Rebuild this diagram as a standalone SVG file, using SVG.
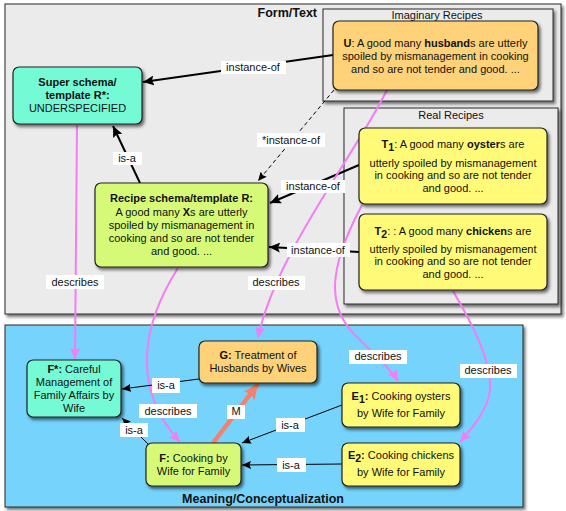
<svg xmlns="http://www.w3.org/2000/svg" width="566" height="511" viewBox="0 0 566 511">
<defs>
<filter id="sh" x="-10%" y="-10%" width="125%" height="125%">
<feDropShadow dx="2" dy="2.5" stdDeviation="1.5" flood-color="#000" flood-opacity="0.55"/>
</filter>
<marker id="ab" markerUnits="userSpaceOnUse" markerWidth="12" markerHeight="10" refX="11" refY="5" orient="auto">
<path d="M0,0 L11,5 L0,10 L2,5 z" fill="#000"/>
</marker>
<marker id="as" markerUnits="userSpaceOnUse" markerWidth="10" markerHeight="8" refX="9" refY="4" orient="auto">
<path d="M0,0 L9,4 L0,8 L1.5,4 z" fill="#000"/>
</marker>
<marker id="ap" markerUnits="userSpaceOnUse" markerWidth="12" markerHeight="10" refX="11" refY="5" orient="auto">
<path d="M0,0 L11,5 L0,10 L2,5 z" fill="#F47CF4"/>
</marker>
<marker id="am" markerUnits="userSpaceOnUse" markerWidth="16" markerHeight="14" refX="15" refY="7" orient="auto">
<path d="M0,0 L15,7 L0,14 L3,7 z" fill="#F4806E"/>
</marker>
</defs>
<style>
text{font-family:"Liberation Sans",Arial,sans-serif;font-size:11px;fill:#111;}
.c{text-anchor:middle;}
.b{font-weight:bold;}
.t{font-weight:bold;font-size:12.5px;}
.box{stroke:#2a2a2a;stroke-width:1;filter:url(#sh);}
.node{stroke:#222;stroke-width:1.2;filter:url(#sh);}
.lbl{fill:#fff;}
.blk{fill:none;stroke:#000;stroke-width:2;}
.thin{fill:none;stroke:#000;stroke-width:1;}
.pk{fill:none;stroke:#F47CF4;stroke-width:2;}
</style>
<rect width="566" height="511" fill="#fff"/>

<g id="form-text">
<rect class="box" x="5" y="4" width="556" height="310" fill="#EBEBEB"/>
<text class="t" x="317" y="17" text-anchor="end">Form/Text</text>
</g>
<g id="imaginary-recipes">
<rect class="box" x="323" y="9" width="230" height="92" fill="#EBEBEB"/>
<text class="c" x="437" y="19">Imaginary Recipes</text>
</g>
<g id="real-recipes">
<rect class="box" x="344" y="108" width="214" height="196" fill="#EBEBEB"/>
<text class="c" x="451" y="119">Real Recipes</text>
</g>
<g id="meaning">
<rect class="box" x="5" y="325" width="518" height="182" fill="#75D3FC"/>
<text class="t c" x="263" y="503">Meaning/Conceptualization</text>
</g>

<g id="connectors">
<line class="blk" x1="333" y1="55" x2="143" y2="82" marker-end="url(#ab)"/>
<line class="thin" x1="334" y1="90" x2="258" y2="181" stroke-dasharray="4,3" stroke-width="1.2" marker-end="url(#as)"/>
<line class="blk" x1="140" y1="183" x2="113" y2="126" marker-end="url(#ab)"/>
<line class="blk" x1="359" y1="165" x2="270" y2="203" marker-end="url(#ab)"/>
<line class="blk" x1="359" y1="252" x2="269" y2="247" marker-end="url(#ab)"/>
<line class="pk" x1="77" y1="125" x2="75" y2="359" marker-end="url(#ap)"/>
<path class="pk" d="M178,268 C145,320 128,385 180,442" marker-end="url(#ap)"/>
<path class="pk" d="M387,90 C355,155 275,255 258,338" marker-end="url(#ap)"/>
<path class="pk" d="M362,205 C330,265 325,305 355,335 C375,355 390,368 398,381" marker-end="url(#ap)"/>
<path class="pk" d="M453,291 C470,320 492,360 490,390 C488,410 472,428 460,442" marker-end="url(#ap)"/>
<line class="thin" x1="199" y1="379" x2="122" y2="389" marker-end="url(#as)"/>
<line class="thin" x1="148" y1="444" x2="122" y2="418" marker-end="url(#as)"/>
<line class="thin" x1="342" y1="405" x2="242" y2="443" marker-end="url(#as)"/>
<line class="thin" x1="342" y1="464" x2="242" y2="465" marker-end="url(#as)"/>
<line x1="213" y1="443" x2="258" y2="384" stroke="#F4806E" stroke-width="4.5" marker-end="url(#am)"/>

<rect class="lbl" x="221" y="61" width="65" height="13"/>
<text class="c" x="253" y="71">instance-of</text>
<rect class="lbl" x="257" y="133" width="68" height="14"/>
<text class="c" x="291" y="144">*instance-of</text>
<rect class="lbl" x="113" y="152" width="29" height="13"/>
<text class="c" x="127" y="162">is-a</text>
<rect class="lbl" x="281" y="180" width="64" height="13"/>
<text class="c" x="313" y="190">instance-of</text>
<rect class="lbl" x="287" y="243" width="63" height="14"/>
<text class="c" x="318" y="254">instance-of</text>
<rect class="lbl" x="46" y="275" width="58" height="14"/>
<text class="c" x="75" y="286">describes</text>
<rect class="lbl" x="248" y="276" width="57" height="14"/>
<text class="c" x="276" y="286">describes</text>
<rect class="lbl" x="349" y="350" width="58" height="14"/>
<text class="c" x="378" y="360">describes</text>
<rect class="lbl" x="460" y="364" width="57" height="14"/>
<text class="c" x="488" y="374">describes</text>
<rect class="lbl" x="139" y="404" width="58" height="14"/>
<text class="c" x="168" y="415">describes</text>
<rect class="lbl" x="152" y="378" width="28" height="15"/>
<text class="c" x="166" y="389">is-a</text>
<rect class="lbl" x="120" y="423" width="28" height="14"/>
<text class="c" x="134" y="434">is-a</text>
<rect class="lbl" x="227" y="405" width="18" height="14"/>
<text class="c" x="236" y="415">M</text>
<rect class="lbl" x="276" y="418" width="29" height="14"/>
<text class="c" x="290" y="429">is-a</text>
<rect class="lbl" x="277" y="458" width="29" height="14"/>
<text class="c" x="291" y="469">is-a</text>
</g>

<g id="node-super">
<rect class="node" x="13" y="67" width="129" height="57" rx="6" fill="#75FAD6"/>
<text class="c b" x="77.5" y="86">Super schema/</text>
<text class="c b" x="77.5" y="99">template R*:</text>
<text class="c" x="77.5" y="112">UNDERSPECIFIED</text>
</g>
<g id="node-u">
<rect class="node" x="333" y="21" width="205" height="69" rx="6" fill="#FDD278"/>
<text class="c" x="435.5" y="47"><tspan class="b">U</tspan>: A good many <tspan class="b">husband</tspan>s are utterly</text>
<text class="c" x="435.5" y="60">spoiled by mismanagement in cooking</text>
<text class="c" x="435.5" y="73">and so are not tender and good. ...</text>
</g>
<g id="node-t1">
<rect class="node" x="359" y="128" width="188" height="76" rx="6" fill="#FFFB78"/>
<text class="c" x="453" y="148"><tspan class="b">T</tspan><tspan class="b" dy="3" font-size="10.5">1</tspan><tspan dy="-3">: A good many </tspan><tspan class="b">oyster</tspan>s are</text>
<text class="c" x="453" y="167">utterly spoiled by mismanagement</text>
<text class="c" x="453" y="179">in cooking and so are not tender</text>
<text class="c" x="453" y="192">and good. ...</text>
</g>
<g id="node-t2">
<rect class="node" x="359" y="214" width="188" height="76" rx="6" fill="#FFFB78"/>
<text class="c" x="453" y="235"><tspan class="b">T</tspan><tspan class="b" dy="3" font-size="10.5">2</tspan><tspan dy="-3">: : A good many </tspan><tspan class="b">chicken</tspan>s are</text>
<text class="c" x="453" y="253">utterly spoiled by mismanagement</text>
<text class="c" x="453" y="265">in cooking and so are not tender</text>
<text class="c" x="453" y="278">and good. ...</text>
</g>
<g id="node-r">
<rect class="node" x="95" y="183" width="173" height="84" rx="6" fill="#D6FA78"/>
<text class="c b" x="181.5" y="202">Recipe schema/template R:</text>
<text class="c" x="181.5" y="216">A good many <tspan class="b">X</tspan>s are utterly</text>
<text class="c" x="181.5" y="229">spoiled by mismanagement in</text>
<text class="c" x="181.5" y="242">cooking and so are not tender</text>
<text class="c" x="181.5" y="255">and good. ...</text>
</g>
<g id="node-fstar">
<rect class="node" x="27" y="360" width="94" height="57" rx="6" fill="#75FAD6"/>
<text class="c" x="74" y="373"><tspan class="b">F*:</tspan> Careful</text>
<text class="c" x="74" y="386">Management of</text>
<text class="c" x="74" y="399">Family Affairs by</text>
<text class="c" x="74" y="412">Wife</text>
</g>
<g id="node-g">
<rect class="node" x="199" y="341" width="118" height="42" rx="6" fill="#FDD278"/>
<text class="c" x="258" y="359"><tspan class="b">G:</tspan> Treatment of</text>
<text class="c" x="258" y="372">Husbands by Wives</text>
</g>
<g id="node-f">
<rect class="node" x="146" y="443" width="95" height="43" rx="6" fill="#D6FA78"/>
<text class="c" x="193.5" y="462"><tspan class="b">F:</tspan> Cooking by</text>
<text class="c" x="193.5" y="475">Wife for Family</text>
</g>
<g id="node-e1">
<rect class="node" x="342" y="383" width="118" height="44" rx="6" fill="#FFFB78"/>
<text class="c" x="401" y="400"><tspan class="b">E</tspan><tspan class="b" dy="3" font-size="10.5">1</tspan><tspan class="b" dy="-3">:</tspan> Cooking oysters</text>
<text class="c" x="401" y="417">by Wife for Family</text>
</g>
<g id="node-e2">
<rect class="node" x="342" y="443" width="118" height="43" rx="6" fill="#FFFB78"/>
<text class="c" x="401" y="459"><tspan class="b">E</tspan><tspan class="b" dy="3" font-size="10.5">2</tspan><tspan class="b" dy="-3">:</tspan> Cooking chickens</text>
<text class="c" x="401" y="476">by Wife for Family</text>
</g>
</svg>
